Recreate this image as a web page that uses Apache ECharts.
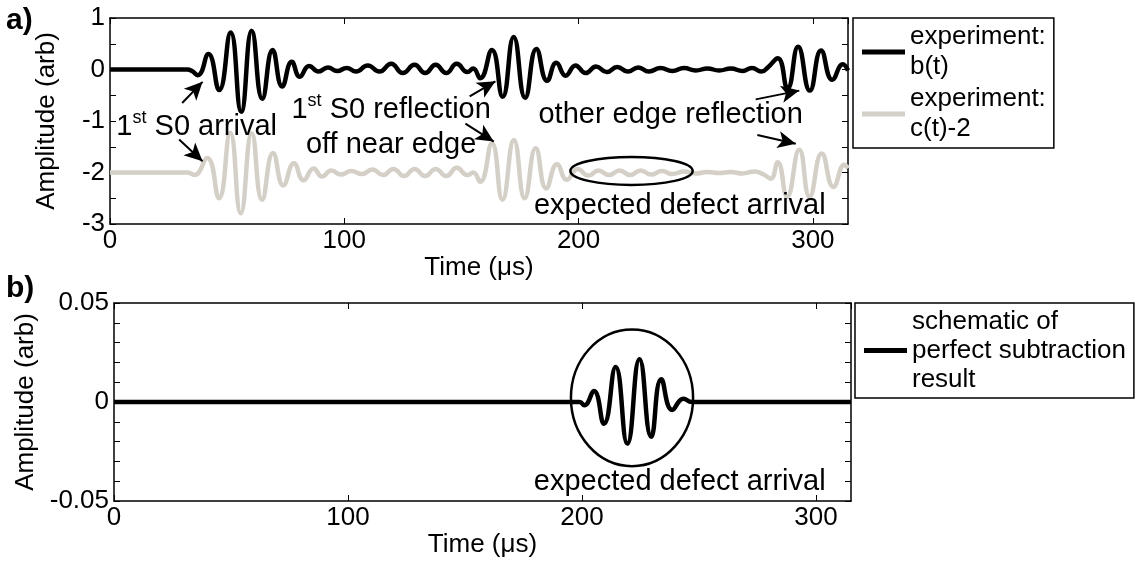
<!DOCTYPE html>
<html><head><meta charset="utf-8">
<script src="https://cdn.jsdelivr.net/npm/echarts@6/dist/echarts.min.js"></script>
<style>html,body{margin:0;padding:0;background:#fff}#c{width:1139px;height:564px}</style>
</head><body><div id="c"></div>
<script>
// ---- data ----
const xTicks = [0, 100, 200, 300];
const topYTicks = [-3, -2, -1, 0, 1];
const botYTicks = [-0.05, 0, 0.05];
const seriesNames = ['experiment: b(t)', 'experiment: c(t)-2', 'schematic of perfect subtraction result'];

// experiment b(t): [time (us), amplitude]
const bSignal = [[0,0],[33,0],[35,-0.03],[37.5,-0.11],[42,0.30],[46.6,-0.40],[51.5,0.72],[56,-0.82],[60.5,0.75],[65,-0.57],[69.4,0.38],[73.5,-0.33],[77.6,0.15],[81,-0.14],[85,0.07],[89,-0.04],[93,0.04],[97,-0.03],[101,0.03],[105,-0.04],[110,0.08],[115,-0.04],[120,0.11],[125,-0.07],[130,0.09],[134.5,-0.07],[139,0.09],[143.5,-0.07],[148,0.11],[152.5,-0.05],[155,0.02],[158,-0.17],[163,0.38],[167.6,-0.53],[172.3,0.63],[177.2,-0.55],[182,0.40],[186.6,-0.22],[190.5,0.13],[194.5,-0.12],[198.7,0.08],[203,-0.07],[207.5,0.06],[212,-0.05],[216.5,0.05],[221,-0.04],[225.5,0.04],[230,-0.04],[235,0.03],[240,-0.03],[245,0.03],[250,-0.02],[255,0.02],[260,-0.02],[265,0.02],[270,-0.03],[274,0.03],[278,-0.04],[281,0.05],[285,0.22],[289.2,-0.37],[293.7,0.44],[298.7,-0.41],[303.5,0.37],[308.3,-0.2],[312.8,0.1],[315,-0.02]];

// experiment c(t)-2
const cSignal = [[0,-2],[33,-2],[36,-2.05],[41.5,-1.72],[46.5,-2.5],[51.3,-1.23],[55.8,-2.79],[60.5,-1.24],[64.9,-2.53],[69.6,-1.62],[74,-2.25],[78.5,-1.82],[82.6,-2.15],[86.9,-1.92],[90.5,-2.08],[94.5,-1.96],[98.5,-2.04],[103,-1.97],[107.5,-2.03],[112,-1.94],[116.5,-2.05],[121,-1.93],[125.5,-2.07],[130,-1.93],[134.5,-2.07],[139,-1.93],[143.5,-2.07],[148,-1.91],[152.5,-2.05],[155,-2.0],[158,-2.18],[163,-1.43],[167.5,-2.53],[172.4,-1.37],[177,-2.5],[181.7,-1.53],[186.2,-2.31],[190.8,-1.84],[195,-2.14],[199.6,-1.93],[204.2,-2.06],[208.5,-1.96],[213,-2.05],[217.5,-1.96],[222,-2.05],[226.5,-1.96],[231,-2.04],[235.5,-1.97],[240,-2.03],[245,-1.98],[250,-2.02],[255,-1.99],[260,-2.01],[265,-1.99],[270,-2.02],[275,-1.98],[279,-2.04],[282,-2.12],[285,-1.80],[289,-2.47],[294.2,-1.56],[298.6,-2.47],[303.8,-1.63],[308.8,-2.28],[313.5,-1.85],[315,-1.92]];

// schematic of perfect subtraction result
const subtraction = [[0,0],[199,0],[201,-0.0017],[205.1,0.0055],[209.4,-0.011],[214.4,0.0177],[219.4,-0.021],[224.6,0.0216],[229.6,-0.0176],[233.9,0.0115],[238.6,-0.004],[243.4,0.0017],[247,0],[315,0]];

// annotations (data coordinates)
const topArrows = [[[30.8,-0.65],[39.5,-0.24]], [[29.5,-1.36],[39.5,-1.78]], [[153.5,-0.52],[164.5,-0.23]], [[151.7,-1.05],[163.8,-1.40]], [[275.6,-0.58],[294.2,-0.41]], [[276.3,-1.27],[292.7,-1.44]]];
const topEllipse = {c:[222.6,-1.97], rx:26.1, ry:0.272};
const botEllipse = {c:[221.4,0.0021], rx:26.1, ry:0.0345};
const topTexts = [
  {pos:[37,-1.107], rich:'{n|1}{s|st}{n| S0 arrival}'},
  {pos:[120,-1.12], rich:'{n|1}{s|st}{n| S0 reflection}\n{n|off near edge}'},
  {pos:[239.3,-0.88], rich:'{n|other edge reflection}'},
  {pos:[243.2,-2.647], rich:'{n|expected defect arrival}'}
];
const botTexts = [{pos:[241.8,-0.0402], rich:'{n|expected defect arrival}'}];

// ---- chart ----
const F = 'Liberation Sans, Arial, Helvetica, sans-serif';
const chart = echarts.init(document.getElementById('c'), null, {renderer:'canvas'});

function xAx(g, pos, labels){
  return {type:'value', gridIndex:g, position:pos, min:0, max:315, interval:100,
    axisLine:{show:true, onZero:false, lineStyle:{color:'#000', width:1.5}},
    axisTick:{show:true, inside:true, length:6, lineStyle:{color:'#000', width:1}},
    axisLabel:{show:labels, color:'#000', fontSize:26, fontFamily:F, margin:4, showMaxLabel:false,
      formatter: v => xTicks.includes(v) ? String(v) : ''},
    splitLine:{show:false},
    name: labels ? 'Time (μs)' : '', nameLocation:'middle', nameGap:25,
    nameTextStyle:{color:'#000', fontSize:26, fontFamily:F}};
}
function yAx(g, pos, labels, min, max, interval, minorSplit, ticks){
  return {type:'value', gridIndex:g, position:pos, min:min, max:max, interval:interval,
    axisLine:{show:true, onZero:false, lineStyle:{color:'#000', width:1.5}},
    axisTick:{show:true, inside:true, length:6, lineStyle:{color:'#000', width:1}},
    minorTick:{show:true, splitNumber:minorSplit, length:6, lineStyle:{color:'#000', width:1}},
    axisLabel:{show:labels, color:'#000', fontSize:26, fontFamily:F, margin:5,
      formatter: v => { const t = ticks.find(k => Math.abs(k - v) < 1e-9); return t === undefined ? '' : String(t); }},
    splitLine:{show:false},
    name: labels ? 'Amplitude (arb)' : '', nameLocation:'middle', nameGap:50, nameRotate:90,
    nameTextStyle:{color:'#000', fontSize:26, fontFamily:F}};
}

const option = {
  animation:false,
  backgroundColor:'#fff',
  grid:[{left:110, top:18, width:738, height:206}, {left:114, top:303, width:737, height:198}],
  xAxis:[xAx(0,'bottom',true), xAx(0,'top',false), xAx(1,'bottom',true), xAx(1,'top',false)],
  yAxis:[yAx(0,'left',true,-3,1,1,2,topYTicks), yAx(0,'right',false,-3,1,1,2,topYTicks),
         yAx(1,'left',true,-0.05,0.05,0.05,5,botYTicks), yAx(1,'right',false,-0.05,0.05,0.05,5,botYTicks)],
  legend:[
    {data:[seriesNames[0], seriesNames[1]], orient:'vertical', left:853, top:18, selectedMode:false,
     icon:'rect', itemWidth:43, itemHeight:5, itemGap:2, padding:[4,8,4,9],
     borderColor:'#000', borderWidth:1.5, backgroundColor:'#fff',
     formatter: n => n.replace(': ', ':\n'),
     textStyle:{color:'#000', fontSize:26, fontFamily:F, lineHeight:30}},
    {data:[seriesNames[2]], orient:'vertical', left:855, top:303, selectedMode:false,
     icon:'rect', itemWidth:43, itemHeight:5, padding:[4,8,4,9],
     borderColor:'#000', borderWidth:1.5, backgroundColor:'#fff',
     formatter: () => 'schematic of\nperfect subtraction\nresult',
     textStyle:{color:'#000', fontSize:26, fontFamily:F, lineHeight:29}}
  ],
  series:[
    {type:'line', name:seriesNames[0], xAxisIndex:0, yAxisIndex:0, data:bSignal, smooth:0.5,
     showSymbol:false, symbol:'none', color:'#000', lineStyle:{width:4.5, color:'#000'}, silent:true, z:3,
     markLine:{silent:true, symbol:['none','arrow'], symbolSize:[13,18], label:{show:false},
       lineStyle:{type:'solid', color:'#000', width:2},
       data: topArrows.map(a => [{coord:a[0], symbol:'none'}, {coord:a[1], symbol:'arrow'}])}},
    {type:'line', name:seriesNames[1], xAxisIndex:0, yAxisIndex:0, data:cSignal, smooth:0.5,
     showSymbol:false, symbol:'none', color:'#d4d0c8', lineStyle:{width:4.5, color:'#d4d0c8'}, silent:true, z:2},
    {type:'line', name:seriesNames[2], xAxisIndex:2, yAxisIndex:2, data:subtraction, smooth:0.5,
     showSymbol:false, symbol:'none', color:'#000', lineStyle:{width:4.5, color:'#000'}, silent:true, z:3}
  ]
};
chart.setOption(option);

const P = (g, pt) => chart.convertToPixel({xAxisIndex:g*2, yAxisIndex:g*2}, pt);
const rich = {n:{fontSize:29, fontFamily:F, color:'#000', lineHeight:35},
              s:{fontSize:18, fontFamily:F, color:'#000', verticalAlign:'top', lineHeight:35}};
const gfx = [];
function addEllipse(g, e){
  const c = P(g, e.c), r1 = P(g, [e.c[0]+e.rx, e.c[1]+e.ry]);
  gfx.push({type:'ellipse', z:10, silent:true, shape:{cx:c[0], cy:c[1], rx:Math.abs(r1[0]-c[0]), ry:Math.abs(r1[1]-c[1])},
            style:{fill:'none', stroke:'#000', lineWidth:2.5}});
}
addEllipse(0, topEllipse); addEllipse(1, botEllipse);
function addText(g, t){
  const c = P(g, t.pos);
  gfx.push({type:'text', z:10, silent:true, x:c[0], y:c[1],
            style:{text:t.rich, rich:rich, align:'center', verticalAlign:'middle', fill:'#000'}});
}
topTexts.forEach(t => addText(0, t)); botTexts.forEach(t => addText(1, t));
gfx.push({type:'text', silent:true, x:6, y:21, style:{text:'a)', font:'bold 30px '+F, fill:'#000', verticalAlign:'middle'}});
gfx.push({type:'text', silent:true, x:6, y:289, style:{text:'b)', font:'bold 30px '+F, fill:'#000', verticalAlign:'middle'}});
chart.setOption({graphic:gfx});
</script></body></html>
